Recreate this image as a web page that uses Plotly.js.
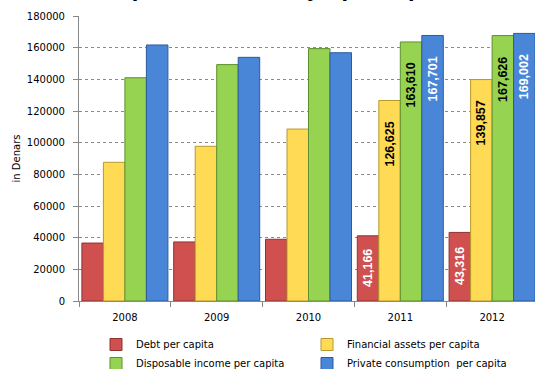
<!DOCTYPE html>
<html><head><meta charset="utf-8">
<script src="https://cdn.plot.ly/plotly-3.0.1.min.js"></script>
<style>html,body{margin:0;padding:0;overflow:hidden;width:535px;height:369px;background:#fff}</style>
</head><body><div id="chart"></div>
<script>
const years = ['2008','2009','2010','2011','2012'];
const seriesNames = ['Debt per capita','Financial assets per capita','Disposable income per capita','Private consumption\u00a0 per capita'];
const debt = [36600, 37300, 39000, 41166, 43316];
const financialAssets = [87600, 97700, 108600, 126625, 139857];
const disposableIncome = [141000, 149300, 159400, 163610, 167626];
const privateConsumption = [161700, 153900, 156800, 167701, 169002];
const labelledYears = ['2011','2012'];
const yTicks = [0,20000,40000,60000,80000,100000,120000,140000,160000,180000];
const titleText = 'Comparison (annually), per capita';

const fills = ['#D0504F','#FFDA55','#95D350','#4A86D8'];
const edges = ['#8E3331','#B8992E','#5E8F2E','#2B5B9C'];
const labelColors = ['#FFFFFF','#000000','#000000','#FFFFFF'];
const allSeries = [debt, financialAssets, disposableIncome, privateConsumption];

const W = 538, H = 369, L = 79, R = 0, T = 16, B = 68;
const plotH = H - T - B, plotW = W - L - R;
const yMax = 180000;
const bargap = 0.063;
const catW = plotW / years.length;
const barW = catW * (1 - bargap) / 4;

const traces = allSeries.map((vals, i) => ({
  type: 'bar', x: years, y: vals, name: seriesNames[i],
  marker: {color: fills[i], line: {color: edges[i], width: 1}},
  hoverinfo: 'skip'
}));

const fmt = v => v.toLocaleString('en-US');
const annotations = [];
allSeries.forEach((vals, i) => {
  years.forEach((yr, j) => {
    if (!labelledYears.includes(yr)) return;
    const v = vals[j];
    const hpx = v / yMax * plotH;
    const textLen = 39;
    const gap = Math.min(19, (hpx - textLen) / 2 - 2);
    annotations.push({
      x: j, y: v, xref: 'x', yref: 'y', text: '<b>' + fmt(v) + '</b>',
      showarrow: false, textangle: -90, xanchor: 'center', yanchor: 'top',
      xshift: (i - 1.5) * barW, yshift: -gap,
      font: {family: 'Liberation Sans, Arial, sans-serif', size: 12.5, color: labelColors[i]}
    });
  });
});
annotations.push({
  text: '<b>' + titleText + '</b>', xref: 'paper', yref: 'paper', x: 0.41, y: 1, yanchor: 'bottom',
  yshift: 13, showarrow: false, font: {family: 'DejaVu Sans, sans-serif', size: 19, color: '#000'}
});

const layout = {
  width: W, height: H,
  margin: {l: L, r: R, t: T, b: B, pad: 0},
  paper_bgcolor: '#fff', plot_bgcolor: '#fff',
  barmode: 'group', bargap: bargap, bargroupgap: 0,
  showlegend: true,
  font: {family: 'DejaVu Sans, sans-serif', size: 10, color: '#000'},
  xaxis: {
    type: 'category', range: [-0.5, years.length - 0.5], autorange: false,
    showline: true, linecolor: '#888', linewidth: 1,
    ticks: 'outside', tickson: 'boundaries', ticklen: 5, tickcolor: '#888',
    ticklabelstandoff: 7,
    tickfont: {family: 'DejaVu Sans, sans-serif', size: 10, color: '#000'},
    showgrid: false, zeroline: false, fixedrange: true
  },
  yaxis: {
    range: [0, yMax], autorange: false, tickvals: yTicks, ticktext: yTicks.map(String),
    showline: true, linecolor: '#888', linewidth: 1,
    ticks: 'outside', ticklen: 5, tickcolor: '#888',
    ticklabelstandoff: 6,
    showgrid: true, gridcolor: '#8a8a8a', griddash: 'dot', gridwidth: 1,
    zeroline: false,
    tickfont: {family: 'DejaVu Sans, sans-serif', size: 10, color: '#000'},
    title: {text: 'in Denars', standoff: 4, font: {family: 'DejaVu Sans, sans-serif', size: 10, color: '#000'}},
    fixedrange: true
  },
  legend: {
    orientation: 'h', xref: 'container', yref: 'container',
    x: 96 / W, xanchor: 'left', y: 39 / H, yanchor: 'top',
    entrywidth: 166, entrywidthmode: 'pixels', tracegroupgap: 0,
    font: {family: 'DejaVu Sans, sans-serif', size: 10, color: '#000'},
    itemclick: false, itemdoubleclick: false
  },
  annotations: annotations
};

Plotly.newPlot('chart', traces, layout, {displayModeBar: false, staticPlot: true});
</script></body></html>
